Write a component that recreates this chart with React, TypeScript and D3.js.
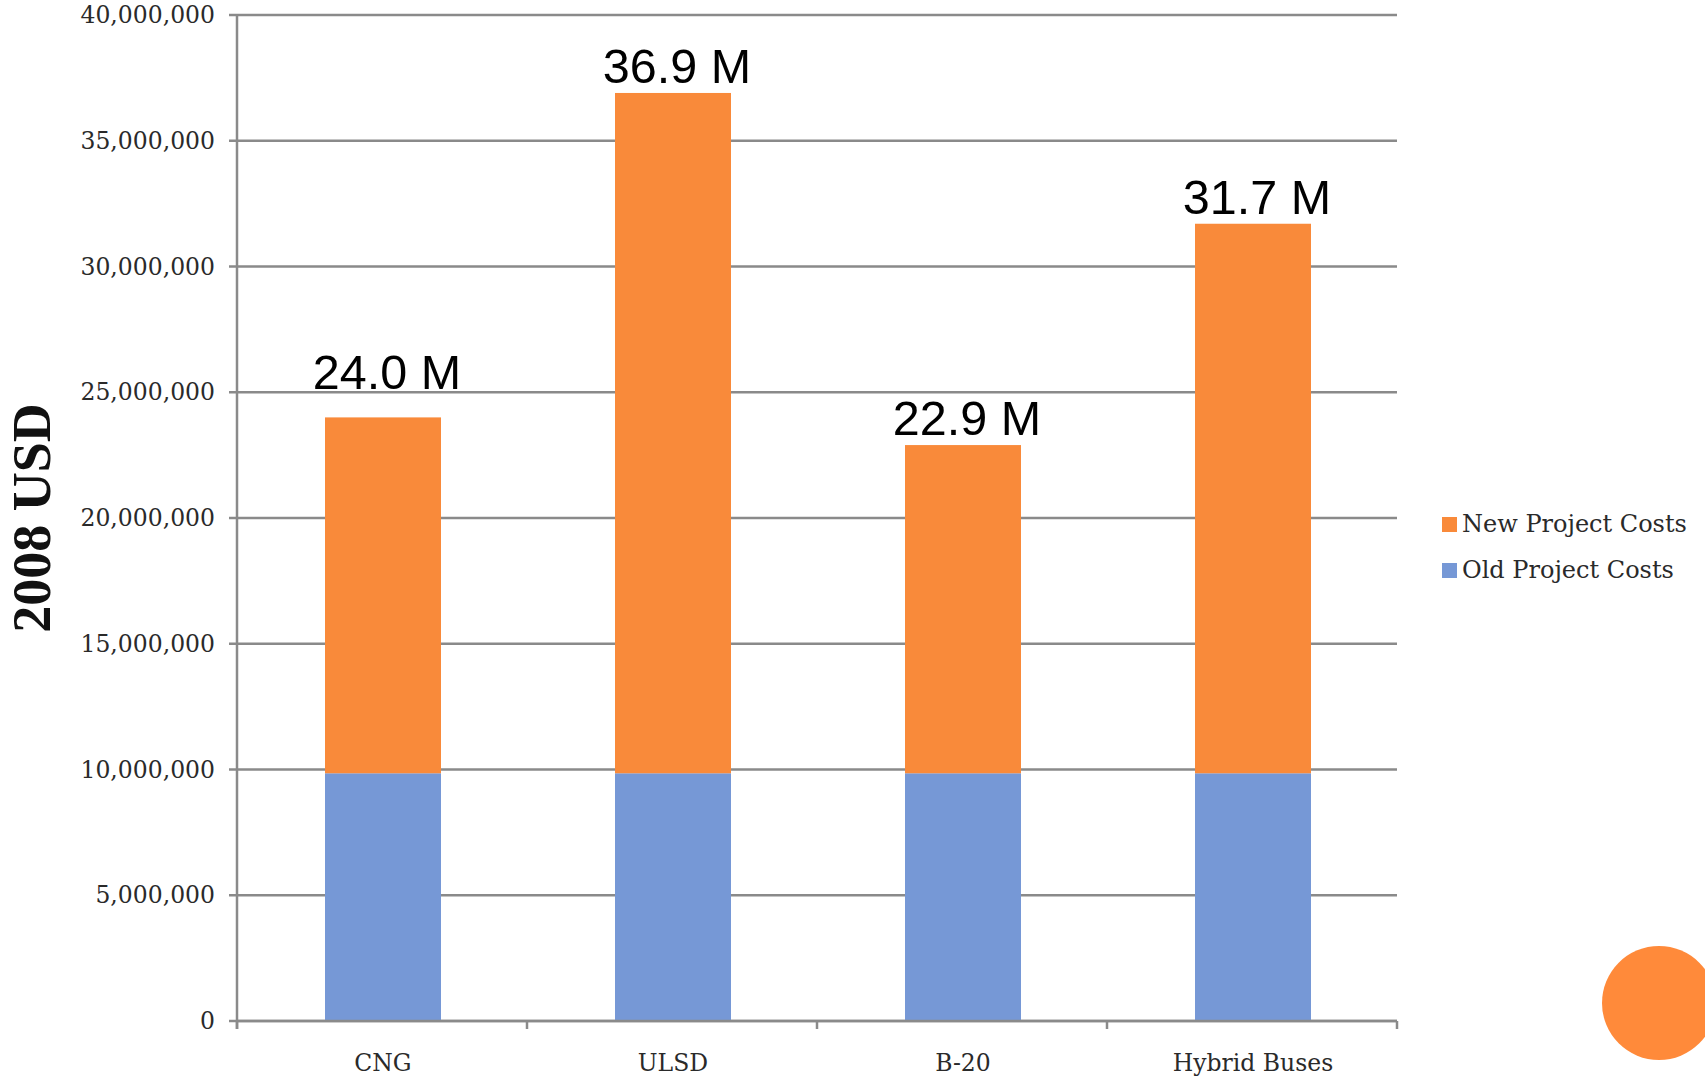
import React from "react";
import * as d3 from "d3";

const categories = ["CNG", "ULSD", "B-20", "Hybrid Buses"];
const oldCosts = [9850000, 9850000, 9850000, 9850000];
const newCosts = [14150000, 27050000, 13050000, 21850000];
const seriesNames = ["Old Project Costs", "New Project Costs"];
const yTicks = [0, 5000000, 10000000, 15000000, 20000000, 25000000, 30000000, 35000000, 40000000];

const W = 1705;
const H = 1079;
const X0 = 237;
const X1 = 1397;
const Y0 = 1021;
const Y1 = 15;
const COLORS: Record<string, string> = {
  "Old Project Costs": "#7698D6",
  "New Project Costs": "#F98A3A",
};
const GRID = "#8a8a8a";
const SERIF = "'DejaVu Serif', serif";

export default function App() {
  const rows = categories.map((c, i) => ({
    cat: c,
    "Old Project Costs": oldCosts[i],
    "New Project Costs": newCosts[i],
  }));
  const stacked = d3.stack<any>().keys(seriesNames)(rows);
  const x = d3.scaleBand<string>().domain(categories).range([X0, X1]).paddingInner(0.6).paddingOuter(0.3);
  const y = d3.scaleLinear().domain([0, 40000000]).range([Y0, Y1]);
  const fmt = d3.format(",");
  const boundaries = d3.range(categories.length + 1).map((i) => X0 + i * ((X1 - X0) / categories.length));
  const labelOffset = (i: number) => (i === 0 ? 28 : 10);

  return (
    <svg width={W} height={H} style={{ position: "absolute", left: 0, top: 0, background: "#fff" }}>
      <rect x={0} y={0} width={W} height={H} fill="#fff" />
      {yTicks.map((t) => (
        <g key={t}>
          <line x1={X0 - 8} x2={X1} y1={y(t)} y2={y(t)} stroke={GRID} strokeWidth={2.5} />
          <text x={X0 - 22} y={y(t) + 8} textAnchor="end" fontFamily={SERIF} fontSize={23.5} fill="#2a2a2a">
            {fmt(t)}
          </text>
        </g>
      ))}
      {stacked.map((s) => (
        <g key={s.key}>
          {s.map((d, i) => (
            <rect
              key={i}
              x={(x(categories[i]) as number) + 1}
              width={x.bandwidth()}
              y={y(d[1])}
              height={y(d[0]) - y(d[1])}
              fill={COLORS[s.key]}
            />
          ))}
        </g>
      ))}
      <line x1={X0} x2={X0} y1={Y1} y2={Y0 + 8} stroke={GRID} strokeWidth={2.5} />
      <line x1={X0} x2={X1} y1={Y0} y2={Y0} stroke={GRID} strokeWidth={2.5} />
      {boundaries.map((b, i) => (
        <line key={i} x1={b} x2={b} y1={Y0} y2={Y0 + 8} stroke={GRID} strokeWidth={2.5} />
      ))}
      {categories.map((c) => (
        <text
          key={c}
          x={(x(c) as number) + x.bandwidth() / 2 + 1}
          y={1071}
          textAnchor="middle"
          fontFamily={SERIF}
          fontSize={23.5}
          fill="#2a2a2a"
        >
          {c}
        </text>
      ))}
      {categories.map((c, i) => {
        const total = oldCosts[i] + newCosts[i];
        return (
          <text
            key={c}
            x={(x(c) as number) + x.bandwidth() / 2 + 5}
            y={y(total) - labelOffset(i)}
            textAnchor="middle"
            fontFamily="'Liberation Sans', Arial, sans-serif"
            fontSize={48.5}
            fill="#000"
          >
            {(total / 1e6).toFixed(1) + " M"}
          </text>
        );
      })}
      <text
        transform={`translate(50,518) rotate(-90)`}
        textAnchor="middle"
        fontFamily="'Liberation Serif', 'Times New Roman', serif"
        fontWeight="bold"
        fontSize={54}
        fill="#111"
      >
        2008 USD
      </text>
      {["New Project Costs", "Old Project Costs"].map((k, i) => (
        <g key={k} transform={`translate(1442,${517 + i * 46})`}>
          <rect x={0} y={0} width={15} height={15} fill={COLORS[k]} />
          <text x={20} y={15} fontFamily={SERIF} fontSize={24} fill="#2a2a2a">
            {k}
          </text>
        </g>
      ))}
      <circle cx={1659} cy={1003} r={57} fill="#FF8A3A" />
    </svg>
  );
}
